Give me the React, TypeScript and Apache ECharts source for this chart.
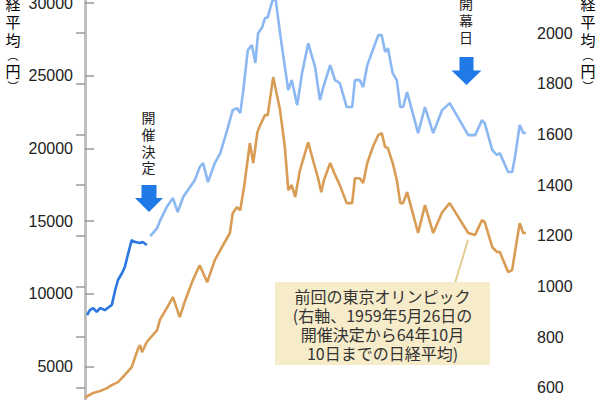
import React, { useEffect, useRef } from "react";
import * as echarts from "echarts";

// time axis: months after 1959-05-26 (decision of the 1964 Tokyo Olympics)
const darkBlueT = [0.3, 0.7, 1.2, 1.7, 2.2, 2.9, 3.3, 3.9, 4.4, 4.8, 5.4, 5.8, 6.3, 6.8, 7.3, 8.0, 8.4, 9.0];
const darkBlueV = [8550, 8890, 9030, 8760, 9030, 8890, 9030, 9240, 10270, 10960, 11440, 11850, 12810, 13700, 13570, 13500, 13570, 13360];

const lightBlueT = [9.5, 10.5, 10.9, 11.9, 12.8, 13.5, 14.3, 15.0, 16.0, 16.7, 17.2, 17.9, 18.9, 19.7, 20.7, 21.5, 22.1, 22.6, 23.0, 23.7, 24.3, 24.8, 25.2, 25.8, 26.2, 26.6, 27.2, 27.7, 28.4, 29.1, 29.6, 30.1, 30.9, 31.6, 32.5, 33.5, 34.2, 34.7, 35.7, 36.4, 37.1, 38.1, 38.9, 39.3, 40.0, 40.5, 41.1, 41.9, 42.7, 43.2, 43.7, 44.1, 44.8, 45.4, 45.9, 46.3, 46.9, 47.6, 48.5, 49.5, 50.7, 52.0, 53.1, 55.8, 56.8, 57.8, 58.2, 59.3, 60.0, 60.4, 61.6, 62.2, 62.6, 63.3, 63.8, 64.2];
const lightBlueV = [13980, 14530, 15010, 15970, 16590, 15630, 16660, 17140, 17830, 18720, 19000, 17690, 19000, 19680, 21270, 22640, 22780, 22430, 23810, 26760, 27110, 25870, 27930, 28340, 28960, 29020, 30050, 30470, 27930, 25600, 24010, 24700, 22980, 25180, 27240, 25600, 23330, 24220, 25730, 24700, 24500, 22850, 22850, 24700, 24700, 24220, 25730, 26760, 27790, 27790, 26630, 26900, 25180, 24700, 22850, 22850, 23880, 22640, 21060, 22850, 21060, 22640, 23120, 20920, 20920, 21950, 21750, 19890, 19550, 19680, 18380, 18380, 19410, 21610, 21060, 21060];

const orangeT = [0, 0.4, 1.2, 2.2, 3.2, 3.9, 4.8, 5.8, 6.8, 7.7, 8.0, 8.3, 9.0, 10.5, 10.9, 11.9, 12.8, 13.8, 14.6, 15.7, 16.7, 17.8, 18.9, 19.7, 21.1, 21.5, 22.1, 22.6, 23.2, 24.0, 24.5, 25.1, 25.5, 26.2, 26.6, 27.4, 28.4, 29.1, 29.6, 30.1, 30.6, 31.3, 32.5, 33.2, 33.9, 34.4, 34.8, 35.7, 36.3, 37.1, 38.1, 38.9, 39.3, 40.0, 40.5, 41.1, 41.9, 42.7, 43.2, 43.7, 44.1, 44.8, 45.4, 45.9, 46.3, 46.9, 47.6, 48.5, 49.5, 50.7, 52.0, 53.1, 55.8, 56.8, 57.8, 58.2, 59.3, 60.0, 60.4, 61.6, 62.2, 62.6, 63.3, 63.8, 64.2];
const orangeV = [560, 568, 580, 588, 599, 611, 623, 651, 682, 753, 769, 741, 781, 828, 868, 915, 958, 879, 946, 1025, 1084, 1017, 1104, 1144, 1211, 1289, 1313, 1301, 1400, 1565, 1487, 1609, 1636, 1676, 1676, 1826, 1696, 1550, 1380, 1400, 1353, 1459, 1569, 1498, 1431, 1372, 1420, 1487, 1447, 1400, 1329, 1329, 1427, 1427, 1408, 1487, 1550, 1597, 1605, 1550, 1546, 1487, 1420, 1329, 1329, 1372, 1301, 1211, 1321, 1211, 1293, 1329, 1211, 1203, 1262, 1254, 1155, 1136, 1136, 1057, 1065, 1136, 1250, 1211, 1211];

const leftTicks = [5000, 10000, 15000, 20000, 25000, 30000];
const rightTicks = [600, 800, 1000, 1200, 1400, 1600, 1800, 2000];

const axisName = "{c|日}\n{c|経}\n{c|平}\n{c|均}\n{p|︵}\n{c|円}\n{p|︶}";
const decisionLabel = "開\n催\n決\n定";
const openingLabel = "開\n幕\n日";
const noteLines = [
  "前回の東京オリンピック",
  "(右軸、1959年5月26日の",
  "開催決定から64年10月",
  "10日までの日経平均)",
];

const OFF = 80; // chart div is shifted up by this many px
const NUM_FONT = "'Liberation Sans', Arial, sans-serif";
const JP_FONT = "'Noto Sans CJK JP', sans-serif";

function pairs(t: number[], v: number[]) {
  return t.map((x, i) => [x, v[i]]);
}

function downArrow(cx: number, top: number, shaftHalf: number, headTop: number, headHalf: number, tip: number) {
  return [
    [cx - shaftHalf, top + OFF],
    [cx + shaftHalf, top + OFF],
    [cx + shaftHalf, headTop + OFF],
    [cx + headHalf, headTop + OFF],
    [cx, tip + OFF],
    [cx - headHalf, headTop + OFF],
    [cx - shaftHalf, headTop + OFF],
  ];
}

function nameGraphic(cx: number) {
  return {
    type: "text", x: cx, y: -24 + OFF,
    style: {
      text: axisName,
      textAlign: "center", textVerticalAlign: "top",
      rich: {
        c: { fontFamily: JP_FONT, fontSize: 15, lineHeight: 18, color: "#333", align: "center" },
        p: { fontFamily: JP_FONT, fontSize: 11, lineHeight: 13.2, color: "#333", align: "center" },
      },
    },
  };
}

export default function App() {
  const ref = useRef<HTMLDivElement>(null);
  useEffect(() => {
    if (!ref.current) return;
    const chart = echarts.init(ref.current, null, { renderer: "svg" });
    const axisCommon = {
      axisLine: { show: true, lineStyle: { color: "#bdbdbd", width: 2.5 } },
      axisTick: { show: true, inside: true, length: 9, lineStyle: { color: "#9a9a9a", width: 1.5 } },
      splitLine: { show: false },
    };
    chart.setOption({
      animation: false,
      backgroundColor: "#ffffff",
      grid: [
        { left: 85, right: 72, top: 10.3, bottom: 120.6 },
        { left: 85, right: 72, top: 11.6, bottom: 20 },
      ],
      xAxis: [
        { type: "value", gridIndex: 0, min: 0, max: 64.5, show: false },
        { type: "value", gridIndex: 1, min: 0, max: 64.5, show: false },
      ],
      yAxis: [
        {
          type: "value", gridIndex: 0, position: "left", offset: 3,
          min: 0, max: 35000, interval: 5000,
          ...axisCommon,
          axisLabel: {
            margin: 9, fontSize: 16, fontFamily: NUM_FONT, color: "#222",
            formatter: (v: number) => (leftTicks.indexOf(v) >= 0 ? String(v) : ""),
          },
        },
        {
          type: "value", gridIndex: 1, position: "right", offset: 1,
          min: 0, max: 2400, interval: 200,
          ...axisCommon,
          axisLabel: {
            margin: 8, fontSize: 16, fontFamily: NUM_FONT, color: "#222",
            formatter: (v: number) => (rightTicks.indexOf(v) >= 0 ? String(v) : ""),
          },
        },
      ],
      series: [
        {
          type: "line", xAxisIndex: 1, yAxisIndex: 1, data: pairs(orangeT, orangeV),
          showSymbol: false, clip: false, lineStyle: { color: "#d89c55", width: 2.6 }, z: 3,
        },
        {
          type: "line", xAxisIndex: 0, yAxisIndex: 0, data: pairs(lightBlueT, lightBlueV),
          showSymbol: false, clip: false, lineStyle: { color: "#8bb8f2", width: 2.6 }, z: 3,
        },
        {
          type: "line", xAxisIndex: 0, yAxisIndex: 0, data: pairs(darkBlueT, darkBlueV),
          showSymbol: false, clip: false, lineStyle: { color: "#2a77e2", width: 2.6 }, z: 4,
        },
      ],
      graphic: [
        nameGraphic(13),
        nameGraphic(588),
        {
          type: "text", x: 148.5, y: 108.6 + OFF,
          style: { text: decisionLabel, font: `14px ${JP_FONT}`, lineHeight: 16.8, textAlign: "center", textVerticalAlign: "top", fill: "#222" },
        },
        { type: "polygon", shape: { points: downArrow(149, 185, 7.5, 198, 14, 212) }, style: { fill: "#1f79e6" } },
        {
          type: "text", x: 466, y: -5.5 + OFF,
          style: { text: openingLabel, font: `14px ${JP_FONT}`, lineHeight: 17, textAlign: "center", textVerticalAlign: "top", fill: "#222" },
        },
        { type: "polygon", shape: { points: downArrow(466.5, 57, 7, 70.5, 15, 85) }, style: { fill: "#1f79e6" } },
        {
          type: "line", shape: { x1: 455, y1: 283 + OFF, x2: 468, y2: 240 + OFF },
          style: { stroke: "#e2cd92", lineWidth: 2 }, z: 1,
        },
        { type: "rect", shape: { x: 275, y: 282 + OFF, width: 215, height: 83 }, style: { fill: "#f7ecca" }, z: 5 },
        {
          type: "text", x: 382.5, y: 286 + OFF, z: 6,
          style: { text: noteLines.join("\n"), font: `16px ${JP_FONT}`, lineHeight: 19.2, textAlign: "center", textVerticalAlign: "top", fill: "#333" },
        },
      ],
    });
    return () => chart.dispose();
  }, []);
  return (
    <div style={{ position: "fixed", left: 0, top: 0, width: 600, height: 400, overflow: "hidden", background: "#fff" }}>
      <div ref={ref} style={{ position: "absolute", left: 0, top: -OFF, width: 600, height: 640 }} />
    </div>
  );
}
